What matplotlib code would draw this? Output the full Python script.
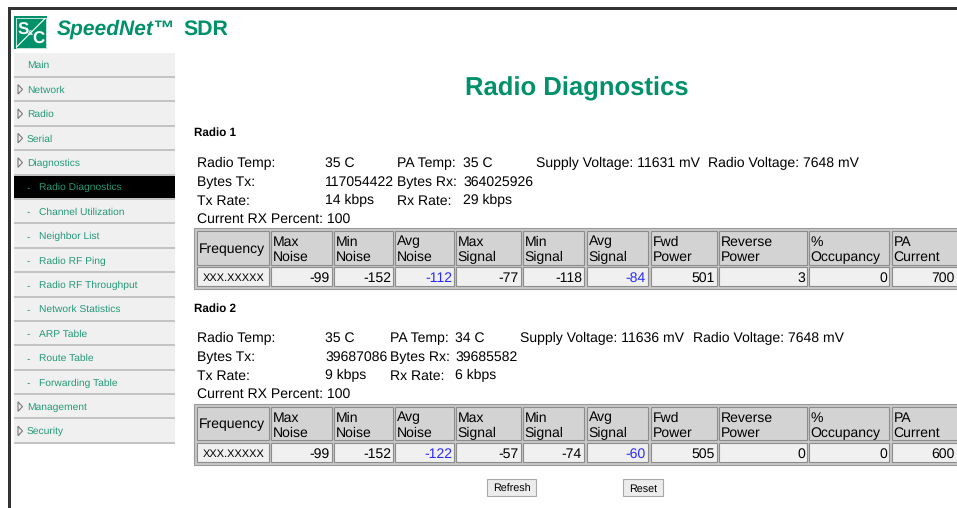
import matplotlib
matplotlib.use("Agg")
import matplotlib.pyplot as plt
from matplotlib.patches import Rectangle, Polygon

plt.rcParams["text.hinting"] = "no_hinting"

# ---------------- data ----------------
menu_items = ["Main", "Network", "Radio", "Serial", "Diagnostics",
              "Radio Diagnostics", "Channel Utilization", "Neighbor List",
              "Radio RF Ping", "Radio RF Throughput", "Network Statistics",
              "ARP Table", "Route Table", "Forwarding Table",
              "Management", "Security"]
menu_kind = ["plain", "group", "group", "group", "group",
             "sub", "sub", "sub", "sub", "sub", "sub", "sub", "sub", "sub",
             "group", "group"]
active_item = "Radio Diagnostics"

radio_names = ["Radio 1", "Radio 2"]
radio_temp = ["35 C", "35 C"]
pa_temp = ["35 C", "34 C"]
supply_voltage = ["11631 mV", "11636 mV"]
radio_voltage = ["7648 mV", "7648 mV"]
bytes_tx = ["117054422", "39687086"]
bytes_rx = ["364025926", "39685582"]
tx_rate = ["14 kbps", "9 kbps"]
rx_rate = ["29 kbps", "6 kbps"]
rx_percent = ["100", "100"]

table_headers = ["Frequency", "Max\nNoise", "Min\nNoise", "Avg\nNoise", "Max\nSignal",
                 "Min\nSignal", "Avg\nSignal", "Fwd\nPower", "Reverse\nPower",
                 "%\nOccupancy", "PA\nCurrent"]
frequency = ["XXX.XXXXX", "XXX.XXXXX"]
max_noise = [-99, -99]
min_noise = [-152, -152]
avg_noise = [-112, -122]
max_signal = [-77, -57]
min_signal = [-118, -74]
avg_signal = [-84, -60]
fwd_power = [501, 505]
reverse_power = [3, 0]
occupancy = [0, 0]
pa_current = [700, 600]
highlight_cols = ["Avg\nNoise", "Avg\nSignal"]

buttons = ["Refresh", "Reset"]

# ---------------- style ----------------
FONT = "Liberation Sans"
GREEN = "#00916b"
MENU_GREEN = "#239a78"
BLUE = "#2b2bff"
FS = 14  # body text size in pixels

W, H = 957, 508
fig = plt.figure(figsize=(W / 100, H / 100), dpi=100)
ax = fig.add_axes([0, 0, 1, 1])
ax.set_xlim(0, W)
ax.set_ylim(H, 0)
ax.axis("off")


def px(size_px):
    return size_px * 72 / 100


def rect(x0, y0, x1, y1, fc, ec="none", lw=0, z=1):
    ax.add_patch(Rectangle((x0, y0), x1 - x0, y1 - y0, facecolor=fc,
                           edgecolor=ec, linewidth=lw, zorder=z))


def txt(x, y, s, size=FS, color="black", weight="normal", ha="left",
        va="baseline", style="normal", z=5):
    ax.text(x, y, s, fontsize=px(size), color=color, fontweight=weight,
            ha=ha, va=va, family=FONT, fontstyle=style, zorder=z)


# page frame
rect(8, 7, W, 10, "#333333", z=3)
rect(8, 7, 11, H, "#333333", z=3)

# logo
rect(14, 16, 47, 49, GREEN, z=3)
rect(15.5, 17.5, 45.5, 47.5, "none", ec="#e8f5f0", lw=0.6, z=4)
ax.plot([16.5, 45], [47, 18.5], color="white", lw=0.8, zorder=4)
txt(23, 30, "S", size=17, color="white", weight="bold", ha="center", va="center", z=5)
txt(38.5, 39, "C", size=17, color="white", weight="bold", ha="center", va="center", z=5)
txt(30.5, 33.5, "&", size=7, color="white", weight="bold", ha="center", va="center", z=5)

# product title
txt(57, 35, "SpeedNet\u2122", size=21, color=GREEN, weight="bold", style="italic")
txt(183, 35, "SDR", size=21.3, color=GREEN, weight="bold")

# sidebar
row_top = 53
row_h = 24.4
rect(14, row_top, 175, row_top + row_h * len(menu_items), "#f0f0f0", z=1)
for i, (name, kind) in enumerate(zip(menu_items, menu_kind)):
    y0 = row_top + i * row_h
    y1 = y0 + row_h
    yc = (y0 + y1) / 2 - 0.5
    if name == active_item:
        rect(14, y0 + 1, 175, y1 - 1, "black", z=2)
    rect(14, y1 - 1.5, 175, y1 + 0.5, "#c4c4c4", z=2)
    if kind == "plain":
        txt(27, yc + 3.6, name, size=10.2, color=MENU_GREEN)
    elif kind == "group":
        ax.add_patch(Polygon([[18, yc - 4.5], [18, yc + 5], [22.5, yc + 0.3]],
                             closed=True, facecolor="none", edgecolor="#777777",
                             linewidth=0.8, zorder=3))
        txt(27, yc + 3.6, name, size=10.2, color=MENU_GREEN)
    else:
        txt(27, yc + 3.6, "-", size=10.2, color=MENU_GREEN)
        txt(39, yc + 3.6, name, size=10.2, color=MENU_GREEN)

# heading
txt(577, 95, "Radio Diagnostics", size=25.6, color=GREEN, weight="bold", ha="center")

# table geometry (pixel layout)
col_left = [197, 271, 334, 395, 456, 523, 587, 651, 719, 809, 892]
col_right = [269, 332, 393, 454, 521, 584, 648, 717, 807, 889, 960]

section_top = [126, 302]
info_base = [[167, 186, 204.5, 223], [342, 361, 379.5, 398]]
table_box = [[228, 231, 265, 267, 286, 289], [404, 407, 440, 443, 462, 465]]
info_cols = [[197, 325, 397, 463, 536, 708], [197, 325, 390, 455, 520, 693]]

value_cols = [frequency, max_noise, min_noise, avg_noise, max_signal, min_signal,
              avg_signal, fwd_power, reverse_power, occupancy, pa_current]

for r in range(2):
    txt(194, section_top[r] + 10, radio_names[r], size=11.6, weight="bold")
    b = info_base[r]
    c = info_cols[r]
    txt(c[0], b[0], "Radio Temp:")
    txt(c[1], b[0], radio_temp[r])
    txt(c[2], b[0], "PA Temp:")
    txt(c[3], b[0], pa_temp[r])
    txt(c[4], b[0], "Supply Voltage: " + supply_voltage[r])
    txt(c[5], b[0], "Radio Voltage: " + radio_voltage[r])
    txt(c[0], b[1], "Bytes Tx:")
    txt(c[1], b[1], bytes_tx[r])
    txt(c[2], b[1], "Bytes Rx:")
    txt(c[3], b[1], bytes_rx[r])
    txt(c[0], b[2], "Tx Rate:")
    txt(c[1], b[2], tx_rate[r])
    txt(c[2], b[2], "Rx Rate:")
    txt(c[3], b[2], rx_rate[r])
    txt(c[0], b[3], "Current RX Percent: " + rx_percent[r])

    t0, h0, h1, d0, d1, t1 = table_box[r]
    rect(194, t0, 960, t1, "#c8c8c8", ec="#9a9a9a", lw=0.8, z=1)
    for j, head in enumerate(table_headers):
        xl, xr = col_left[j], col_right[j]
        rect(xl, h0, xr, h1, "#d3d3d3", ec="#8c8c8c", lw=0.8, z=2)
        rect(xl, d0, xr, d1, "#f0f0f0", ec="#8c8c8c", lw=0.8, z=2)
        if "\n" in head:
            l1, l2 = head.split("\n")
            txt(xl + 1.5, h0 + 14.5, l1)
            txt(xl + 1.5, h0 + 30, l2)
        else:
            txt(xl + 2, (h0 + h1) / 2 + 5, head)
        v = value_cols[j][r]
        color = BLUE if head in highlight_cols else "black"
        yb = (d0 + d1) / 2 + 5
        if j == 0:
            txt((xl + xr) / 2 + 1, yb - 0.5, str(v), size=11, ha="center")
        else:
            txt(min(xr, 957) - 2, yb, str(v), ha="right", color=color)

# buttons
btn_x = [(487, 536), (623, 663)]
for (x0, x1), label in zip(btn_x, buttons):
    rect(x0, 479, x1, 496, "#ececec", ec="#a8a8a8", lw=0.8, z=2)
    txt((x0 + x1) / 2, 491.5, label, size=10.8, ha="center")

fig.savefig("out.png", dpi=100)
